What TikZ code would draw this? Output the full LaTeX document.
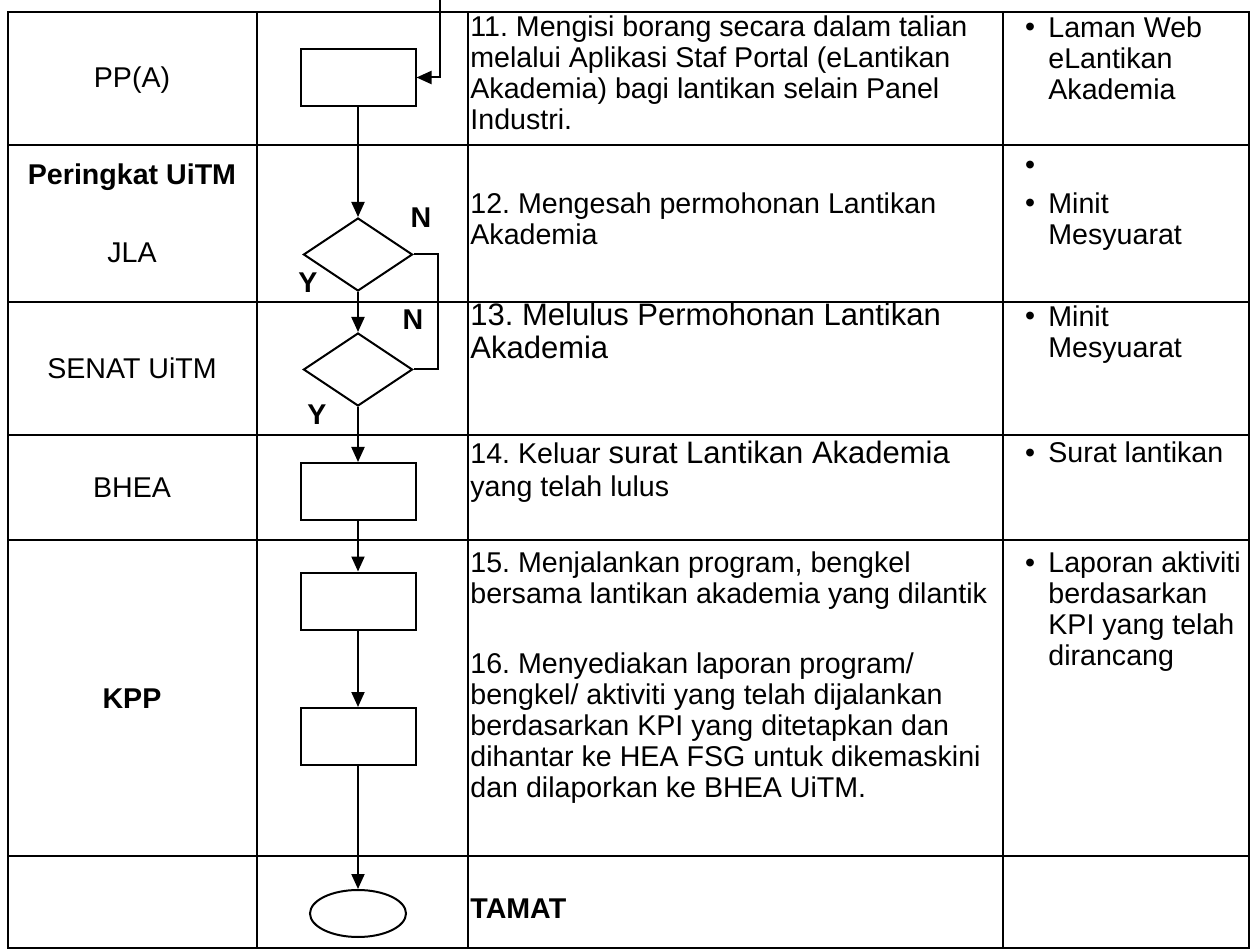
\documentclass[tikz,border=0pt]{standalone}
\usepackage{fontspec}
\setmainfont{Liberation Sans}
\usetikzlibrary{arrows.meta,shapes.geometric}
\frenchspacing
\newcommand\txtfont{\fontsize{14.3}{15.5}\selectfont}
\newcommand\bigtxt{\fontsize{15.5}{16.5}\selectfont}
\newcommand\topline{\rule{0pt}{12pt}}
\begin{document}
\begin{tikzpicture}[x=0.5pt,y=-0.5pt,
  grid/.style={line width=1pt},
  flow/.style={draw,line width=1pt,inner sep=0pt},
  pbox/.style={flow,rectangle,minimum width=57.5pt,minimum height=28.5pt},
  dec/.style={flow,diamond,minimum width=54.5pt,minimum height=36.5pt},
  term/.style={flow,ellipse,minimum width=48pt,minimum height=23.5pt},
  conn/.style={line width=1pt,-{Triangle[length=7.5pt,width=6.5pt]}},
  plain/.style={line width=1pt},
  yn/.style={inner sep=0pt,font=\txtfont\bfseries},
  c1/.style={anchor=base,inner sep=0pt,font=\txtfont},
  c3/.style={anchor=north west,inner sep=0pt,align=left,font=\txtfont},
  c4/.style={anchor=north west,inner sep=0pt,align=left,font=\txtfont},
  bul/.style={anchor=base,inner sep=0pt,font=\txtfont}
]
\useasboundingbox (0,0) rectangle (1254,952);
% table grid
\draw[grid] (8,12) rectangle (1249,948);
\foreach \x in {257,468,1003} \draw[grid] (\x,12) -- (\x,948);
\foreach \y in {145,302,435,540,856} \draw[grid] (8,\y) -- (1249,\y);

% column 1 labels
\node[c1] (l1) at (132,88) {PP(A)};
\node[c1,font=\txtfont\bfseries] (l2) at (132,185) {Peringkat UiTM};
\node[c1] (l3) at (132,263) {JLA};
\node[c1] (l4) at (132,379) {SENAT UiTM};
\node[c1] (l5) at (132,497) {BHEA};
\node[c1,font=\txtfont\bfseries] (l6) at (132,708) {KPP};

% flowchart
\node[pbox] (b1) at (358,77.5) {};
\node[dec] (d1) at (358,254.5) {};
\node[dec] (d2) at (358,369.5) {};
\node[pbox] (b2) at (358,491.5) {};
\node[pbox] (b3) at (358,601) {};
\node[pbox] (b4) at (358,736.5) {};
\node[term] (t) at (358,913.5) {};

\coordinate (entry) at (440,0);
\coordinate (nx) at (438,0);
\draw[conn] (entry) |- (b1.east);
\draw[conn] (b1.south) -- (d1.north);
\draw[conn] (d1.south) -- (d2.north);
\draw[conn] (d2.south) -- (b2.north);
\draw[conn] (b2.south) -- (b3.north);
\draw[conn] (b3.south) -- (b4.north);
\draw[conn] (b4.south) -- (t.north);
\draw[plain] (d1.east) -- (d1.east -| nx) |- (d2.east);

\node[yn] (n1) at (421,218) {N};
\node[yn] (y1) at (308,283) {Y};
\node[yn] (n2) at (413,320) {N};
\node[yn] (y2) at (317,415) {Y};

% column 3 text
\node[c3] (t11) at (470,12) {\topline 11. Mengisi borang secara dalam talian\\melalui Aplikasi Staf Portal (eLantikan\\Akademia) bagi lantikan selain Panel\\Industri.};
\node[c3] (t12) at (470,189) {\topline 12. Mengesah permohonan Lantikan\\Akademia};
\node[c3,font=\bigtxt] (t13) at (470,301) {\topline 13. Melulus Permohonan Lantikan\\Akademia};
\node[c3] (t14) at (470,439) {\topline 14. Keluar {\bigtxt surat Lantikan Akademia}\\[1pt]yang telah lulus};
\node[c3] (t15) at (470,548) {\topline 15. Menjalankan program, bengkel\\bersama lantikan akademia yang dilantik};
\node[c3] (t16) at (470,649) {\topline 16. Menyediakan laporan program/\\bengkel/ aktiviti yang telah dijalankan\\berdasarkan KPI yang ditetapkan dan\\dihantar ke HEA FSG untuk dikemaskini\\dan dilaporkan ke BHEA UiTM.};
\node[c3,font=\txtfont\bfseries] (t17) at (470,894) {\topline TAMAT};

% column 4 text
\node[bul] (u1) at (1030,37) {\textbullet};
\node[c4] (r11) at (1048,13) {\topline Laman Web\\eLantikan\\Akademia};
\node[bul] (u2) at (1030,175) {\textbullet};
\node[bul] (u3) at (1030,213) {\textbullet};
\node[c4] (r12) at (1048,189) {\topline Minit\\Mesyuarat};
\node[bul] (u4) at (1030,326) {\textbullet};
\node[c4] (r13) at (1048,302) {\topline Minit\\Mesyuarat};
\node[bul] (u5) at (1030,462) {\textbullet};
\node[c4] (r14) at (1048,438) {\topline Surat lantikan};
\node[bul] (u6) at (1030,572) {\textbullet};
\node[c4] (r15) at (1048,548) {\topline Laporan aktiviti\\berdasarkan\\KPI yang telah\\dirancang};
\end{tikzpicture}
\end{document}
